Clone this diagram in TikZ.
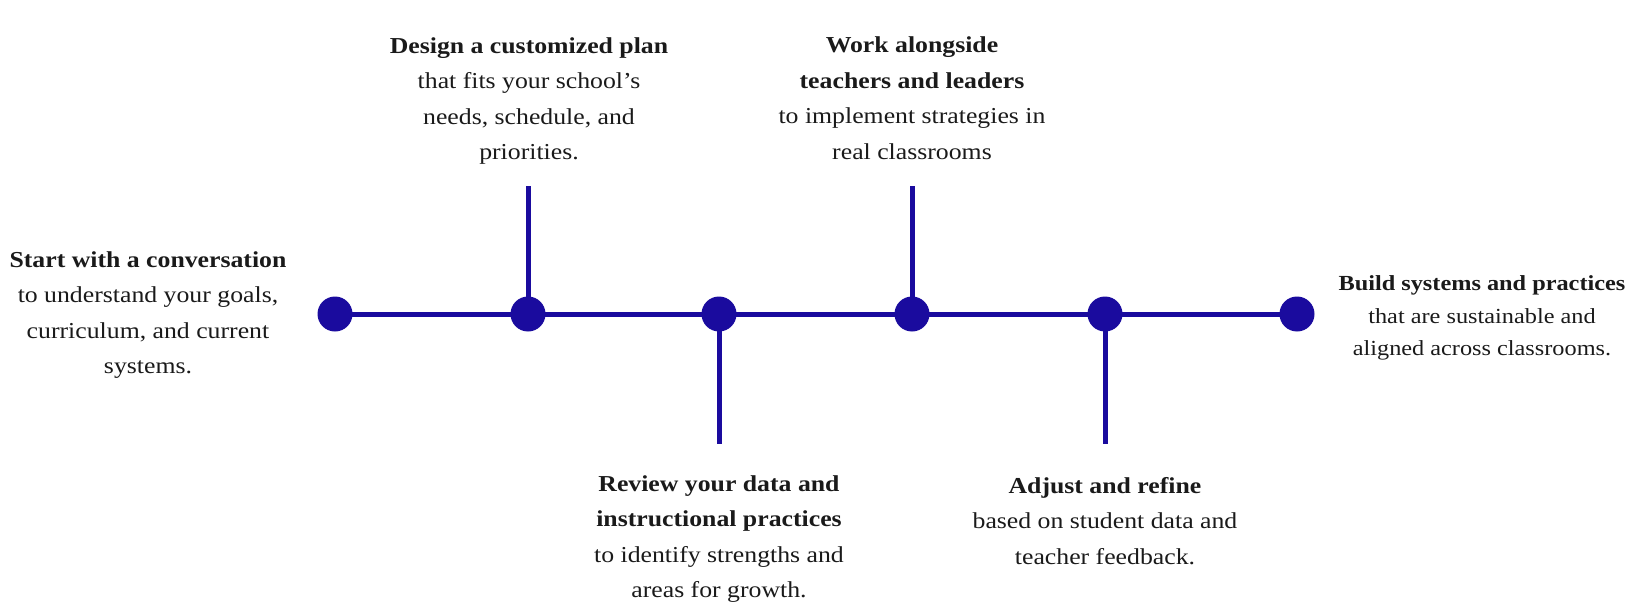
\documentclass[tikz,border=0pt]{standalone}
\usepackage{fontspec}
\setmainfont[FakeStretch=1.13]{Liberation Serif}
\definecolor{tlblue}{HTML}{1A0B9E}
\definecolor{txt}{HTML}{1A1A1A}
\begin{document}
\begin{tikzpicture}[x=1pt,y=-1pt,
  dot/.style={circle,fill=tlblue,minimum size=35pt,inner sep=0pt},
  link/.style={draw=tlblue,line width=5pt},
  lbl/.style={align=center,text=txt,inner sep=0pt,font=\fontsize{22.8}{35.5}\selectfont},
  lbls/.style={align=center,text=txt,inner sep=0pt,font=\fontsize{21.5}{32.5}\selectfont}]
\useasboundingbox (0,0) rectangle (1642,610);
\coordinate (t2) at (528,186);
\coordinate (t4) at (912,186);
\coordinate (b3) at (719,444);
\coordinate (b5) at (1105,444);
\coordinate (c1) at (335,314);
\coordinate (c2) at (528,314);
\coordinate (c3) at (719,314);
\coordinate (c4) at (912,314);
\coordinate (c5) at (1105,314);
\coordinate (c6) at (1297,314);
\draw[link] (c1) -- (c2) -- (c3) -- (c4) -- (c5) -- (c6);
\draw[link] (c2) -- (t2);
\draw[link] (c4) -- (t4);
\draw[link] (c3) -- (b3);
\draw[link] (c5) -- (b5);
\node[dot] (d1) at (c1) {};
\node[dot] (d2) at (c2) {};
\node[dot] (d3) at (c3) {};
\node[dot] (d4) at (c4) {};
\node[dot] (d5) at (c5) {};
\node[dot] (d6) at (c6) {};
\node[lbl] (s1) at (148,315) {\textbf{Start with a conversation}\\to understand your goals,\\curriculum, and current\\systems.};
\node[lbl] (s2) at (529,101) {\textbf{Design a customized plan}\\that fits your school’s\\needs, schedule, and\\priorities.};
\node[lbl] (s3) at (719,539) {\textbf{Review your data and}\\\textbf{instructional practices}\\to identify strengths and\\areas for growth.};
\node[lbl] (s4) at (912,98) {\textbf{Work alongside}\\\textbf{teachers and leaders}\\to implement strategies in\\real classrooms};
\node[lbl] (s5) at (1105,521) {\textbf{Adjust and refine}\\based on student data and\\teacher feedback.};
\node[lbls] (s6) at (1482,318) {\textbf{Build systems and practices}\\that are sustainable and\\aligned across classrooms.};
\end{tikzpicture}
\end{document}
